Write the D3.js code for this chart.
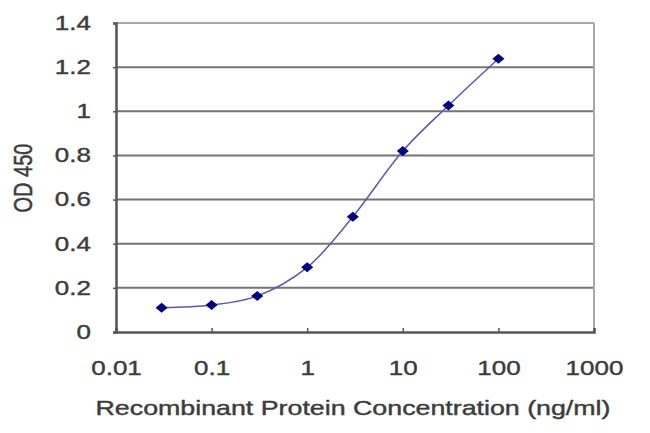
<!DOCTYPE html>
<html>
<head>
<meta charset="utf-8">
<script src="https://cdn.jsdelivr.net/npm/d3@7"></script>
<style>
  body { margin: 0; background: #fff; }
  text { font-family: "Liberation Sans", Arial, sans-serif; fill: #3c3c3c; stroke: #3c3c3c; stroke-width: 0.4px; }
</style>
</head>
<body>
<div id="chart"></div>
<script>
// concentrations (ng/ml) and OD 450 readings
const concentrations = [0.03, 0.1, 0.3, 1, 3, 10, 30, 100];
const odValues = [0.11, 0.122, 0.163, 0.293, 0.522, 0.82, 1.026, 1.238];
const xTicks = [0.01, 0.1, 1, 10, 100, 1000];
const yTicks = [0, 0.2, 0.4, 0.6, 0.8, 1, 1.2, 1.4];

const W = 650, H = 433;
const margin = { top: 23, right: 56, bottom: 101, left: 116 };
const width = W - margin.left - margin.right;
const height = H - margin.top - margin.bottom;
const stretch = 1.3; // the source picture's text is widened

const svg = d3.select("#chart").append("svg")
    .attr("width", W)
    .attr("height", H);

const g = svg.append("g")
    .attr("transform", `translate(${margin.left},${margin.top})`);

const x = d3.scaleLog().domain([0.01, 1000]).range([0, width]);
const y = d3.scaleLinear().domain([0, 1.4]).range([height, 0]);

// horizontal grid lines
g.selectAll(".grid")
    .data(yTicks.filter(d => d > 0))
    .enter().append("line")
    .attr("x1", 0).attr("x2", width)
    .attr("y1", d => y(d)).attr("y2", d => y(d))
    .attr("stroke", d => d === 1.4 ? "#a8a8a8" : "#747474")
    .attr("stroke-width", 2);

// right border
g.append("line")
    .attr("x1", width).attr("x2", width)
    .attr("y1", 0).attr("y2", height)
    .attr("stroke", "#a8a8a8")
    .attr("stroke-width", 2);

// x axis
const xAxis = g.append("g")
    .attr("transform", `translate(0,${height})`)
    .call(d3.axisBottom(x).tickValues(xTicks).tickFormat(d => String(d)).tickSize(-4));
xAxis.select(".domain").attr("stroke", "#555").attr("stroke-width", 2.5);
xAxis.selectAll(".tick line").attr("stroke", "#555").attr("stroke-width", 1.5);
xAxis.selectAll("text")
    .attr("y", 0).attr("dy", 0)
    .attr("transform", `translate(0,43) scale(${stretch},1)`)
    .style("font-size", "20px");

// y axis
const yAxis = g.append("g")
    .call(d3.axisLeft(y).tickValues(yTicks).tickFormat(d => String(d)).tickSize(3));
yAxis.select(".domain").attr("stroke", "#555").attr("stroke-width", 2.5);
yAxis.selectAll(".tick line").attr("stroke", "#555").attr("stroke-width", 1.5);
yAxis.selectAll("text")
    .attr("x", 0)
    .attr("transform", `translate(-25,0) scale(${stretch},1)`)
    .style("font-size", "20px");

// smoothed curve
const line = d3.line()
    .x((d, i) => x(concentrations[i]))
    .y(d => y(d))
    .curve(d3.curveCatmullRom.alpha(0.5));

g.append("path")
    .datum(odValues)
    .attr("fill", "none")
    .attr("stroke", "#5a5aa8")
    .attr("stroke-width", 1.5)
    .attr("d", line);

// diamond markers
g.selectAll(".pt")
    .data(odValues)
    .enter().append("path")
    .attr("class", "pt")
    .attr("transform", (d, i) => `translate(${x(concentrations[i])},${y(d)}) scale(1.15,0.95)`)
    .attr("d", d3.symbol().type(d3.symbolDiamond2).size(70))
    .attr("fill", "#000080");

// axis titles
svg.append("text")
    .attr("transform", `translate(353,415) scale(1.34,1)`)
    .attr("text-anchor", "middle")
    .style("font-size", "20px")
    .text("Recombinant Protein Concentration (ng/ml)");

svg.append("text")
    .attr("transform", `translate(32,178) scale(${stretch},1) rotate(-90)`)
    .attr("text-anchor", "middle")
    .style("font-size", "20px")
    .text("OD 450");
</script>
</body>
</html>
